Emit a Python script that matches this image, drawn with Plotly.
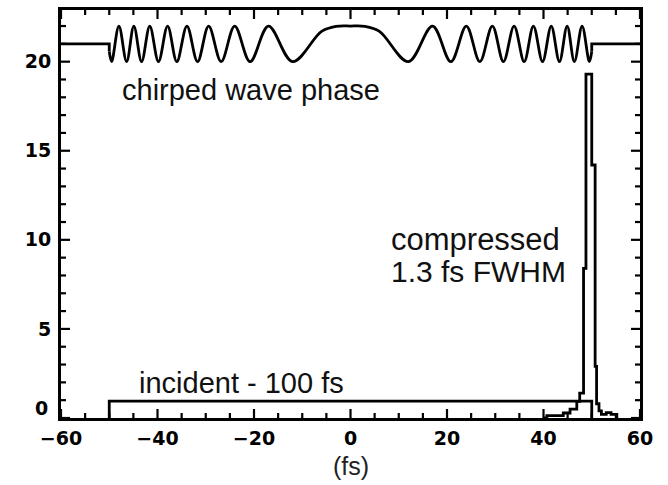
import plotly.graph_objects as go

# ---------------- data ----------------
# incident 100 fs flat-top pulse
incident_x = [-50.0, -50.0, 50.0, 50.0]
incident_y = [0.0, 0.95, 0.95, 0.0]

# compressed pulse (histogram-style steps)
comp_x = [40.0, 40.7, 44.1, 45.5, 46.9, 47.5, 48.3, 48.8, 50.0, 50.7, 51.0, 51.5, 52.0, 53.0, 54.0, 55.2]
comp_y = [0.0, 0.13, 0.28, 0.5, 0.93, 1.4, 8.4, 19.3, 14.2, 2.9, 0.8, 0.4, 0.2, 0.3, 0.2, 0.0]

# chirped wave phase: flat parts and oscillation extrema
flat_left_x = [-60.0, -50.0, -50.0]
flat_left_y = [21.0, 21.0, 20.57]
flat_right_x = [50.0, 50.0, 60.0]
flat_right_y = [20.57, 21.0, 21.0]
wave_x = [-50.0, -49.5, -48.0, -46.4, -44.9, -43.3, -41.6, -39.8, -37.9, -36.0, -33.9,
          -31.7, -29.4, -26.8, -24.0, -20.8, -17.0, -12.0, -6.0, -3.0, 0.0, 3.0, 6.0,
          12.0, 17.0, 20.8, 24.0, 26.8, 29.4, 31.7, 33.9, 36.0, 37.9, 39.8, 41.6, 43.3,
          44.9, 46.4, 48.0, 49.5, 50.0]
wave_y = [20.57, 20.0, 22.0, 20.0, 22.0, 20.0, 22.0, 20.0, 22.0, 20.0, 22.0,
          20.0, 22.0, 20.0, 22.0, 20.0, 22.0, 20.0, 21.7, 21.98, 22.0, 21.98, 21.7,
          20.0, 22.0, 20.0, 22.0, 20.0, 22.0, 20.0, 22.0, 20.0, 22.0, 20.0, 22.0, 20.0,
          22.0, 20.0, 22.0, 20.0, 20.57]

x_ticks = [-60, -40, -20, 0, 20, 40, 60]
x_minor_ticks = [v for v in range(-60, 61, 5) if v not in x_ticks]
y_ticks = [0, 5, 10, 15, 20]
y_minor_ticks = [v for v in range(0, 23) if v not in y_ticks]
y_tick_text = ["", "5", "10", "15", "20"]
y_zero_label = "0"

labels = ["chirped wave phase", "compressed", "1.3 fs FWHM", "incident - 100 fs"]
label_x = [-47.8, 8.0, 8.0, -44.2]
label_y = [18.4, 10.0, 8.2, 1.97]
label_size = [29, 31, 30, 29]
x_title = "(fs)"

X_RANGE = [-60, 60]
Y_RANGE = [0, 22.9]

W, H = 668, 485
M = dict(l=61, r=28, t=10, b=67)

# ---------------- figure ----------------
LW = 2.8
fig = go.Figure()
fig.add_trace(go.Scatter(x=incident_x, y=incident_y, mode="lines",
                         line=dict(color="black", width=LW), hoverinfo="skip"))
fig.add_trace(go.Scatter(x=comp_x, y=comp_y, mode="lines",
                         line=dict(color="black", width=LW, shape="hv"), hoverinfo="skip"))
fig.add_trace(go.Scatter(x=flat_left_x, y=flat_left_y, mode="lines",
                         line=dict(color="black", width=LW), hoverinfo="skip"))
fig.add_trace(go.Scatter(x=flat_right_x, y=flat_right_y, mode="lines",
                         line=dict(color="black", width=LW), hoverinfo="skip"))
fig.add_trace(go.Scatter(x=wave_x, y=wave_y, mode="lines",
                         line=dict(color="black", width=LW, shape="spline", smoothing=1.0),
                         hoverinfo="skip"))

# inward tick marks on all four sides (IDL style), built from the tick arrays as shapes
MAJOR_LEN, MINOR_LEN = 9, 5
tick_line = dict(color="black", width=2.2)
shapes = []
for ticks, ln in ((x_ticks, MAJOR_LEN), (x_minor_ticks, MINOR_LEN)):
    for t in ticks:
        shapes.append(dict(type="line", xref="x", yref="paper", x0=t, x1=t, y0=0, y1=ln,
                           ysizemode="pixel", yanchor=0, line=tick_line, layer="above"))
        shapes.append(dict(type="line", xref="x", yref="paper", x0=t, x1=t, y0=0, y1=-ln,
                           ysizemode="pixel", yanchor=1, line=tick_line, layer="above"))
for ticks, ln in ((y_ticks, MAJOR_LEN), (y_minor_ticks, MINOR_LEN)):
    for t in ticks:
        shapes.append(dict(type="line", xref="paper", yref="y", x0=0, x1=ln, y0=t, y1=t,
                           xsizemode="pixel", xanchor=0, line=tick_line, layer="above"))
        shapes.append(dict(type="line", xref="paper", yref="y", x0=0, x1=-ln, y0=t, y1=t,
                           xsizemode="pixel", xanchor=1, line=tick_line, layer="above"))

tickfont = dict(family="DejaVu Sans", size=19, color="black", weight="bold")
fig.update_xaxes(range=X_RANGE, tickmode="array", tickvals=x_ticks,
                 ticks="", showline=True, linewidth=3, linecolor="black", mirror=True,
                 showgrid=False, zeroline=False, tickfont=tickfont, ticklabelstandoff=1)
fig.update_yaxes(range=Y_RANGE, tickmode="array", tickvals=y_ticks, ticktext=y_tick_text,
                 ticks="", showline=True, linewidth=3, linecolor="black", mirror=True,
                 showgrid=False, zeroline=False, tickfont=tickfont, ticklabelstandoff=3)

for t, x, y, s in zip(labels, label_x, label_y, label_size):
    fig.add_annotation(x=x, y=y, xref="x", yref="y", text=t, showarrow=False,
                       xanchor="left", yanchor="middle",
                       font=dict(family="Liberation Sans, Arial, sans-serif", size=s, color="#111111"))
fig.add_annotation(x=0, y=-0.118, xref="x", yref="paper", text=x_title, showarrow=False,
                   xanchor="center", yanchor="middle",
                   font=dict(family="Liberation Sans, Arial, sans-serif", size=25, color="#222222"))
fig.add_annotation(x=0, y=0.55, xref="paper", yref="y", xshift=-11, text=y_zero_label,
                   showarrow=False, xanchor="right", yanchor="middle", font=tickfont)

fig.update_layout(template="none", width=W, height=H, showlegend=False, margin=M,
                  paper_bgcolor="white", plot_bgcolor="white", shapes=shapes)
fig.write_html("out.html")
